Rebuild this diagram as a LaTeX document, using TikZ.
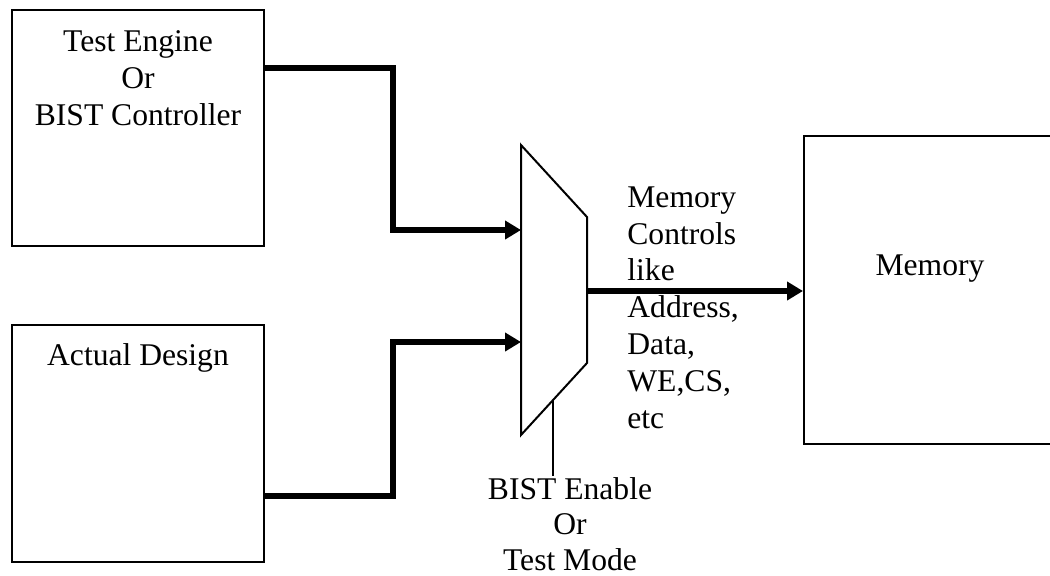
\documentclass[tikz,border=0pt]{standalone}
\usepackage{fontspec}
\setmainfont{Liberation Serif}
\usetikzlibrary{arrows.meta}
\begin{document}
\begin{tikzpicture}[x=0.5pt,y=-0.5pt,
  blk/.style={draw,line width=1pt,rectangle,inner sep=0pt},
  lbl/.style={inner sep=0pt,font=\fontsize{15.8}{18.4}\selectfont},
  wire/.style={line width=2.8pt,-{Triangle[length=8pt,width=9pt]}},
  muxline/.style={line width=1pt,line join=miter},
  selline/.style={line width=1pt}]
\useasboundingbox (0,0) rectangle (1050,575);

% blocks (the memory block runs past the right margin)
\node[blk,minimum width=126pt,minimum height=118pt] (te) at (138,128) {};
\node[blk,minimum width=126pt,minimum height=118.5pt] (ad) at (138,443.5) {};
\node[blk,minimum width=128pt,minimum height=154pt] (mem) at (932,290) {};

% block captions (multi-line nodes are placed by their last baseline)
\node[lbl,anchor=base,align=center] (tetxt) at (138,125) {Test Engine\\Or\\BIST Controller};
\node[lbl,anchor=base] (adtxt) at (138,365) {Actual Design};
\node[lbl,anchor=base] (memtxt) at (930,275) {Memory};

% multiplexer
\coordinate (m1) at (521,145);
\coordinate (m2) at (587,217);
\coordinate (m3) at (587,363);
\coordinate (m4) at (521,435);
\draw[muxline] (m1) -- (m2) -- (m3) -- (m4) -- cycle;
\coordinate (in1) at (521,230);
\coordinate (in2) at (521,342);
\coordinate (out) at (587,291);
\coordinate (sel) at (553,400);

% routing points
\coordinate (j1) at (393,68);
\coordinate (j2) at (393,496);

\draw[wire] (te.east |- j1) -- (j1) |- (in1);
\draw[wire] (ad.east |- j2) -- (j2) |- (in2);
\draw[wire] (out) -- (out -| mem.west);

% output description
\node[lbl,anchor=base west,align=left] (ctl) at (627,428)
  {Memory\\Controls\\like\\Address,\\Data,\\WE,CS,\\etc};

% select
\node[lbl,anchor=base,align=center,font=\fontsize{15.8}{17.6}\selectfont] (bist) at (570,570) {BIST Enable\\Or\\Test Mode};
\draw[selline] (sel) -- (sel |- 0,476);
\end{tikzpicture}
\end{document}
